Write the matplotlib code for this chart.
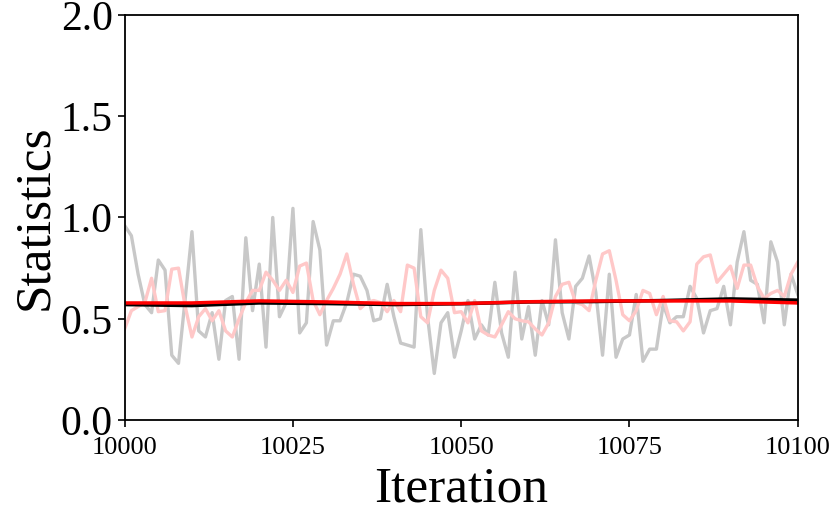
import matplotlib.pyplot as plt
import numpy as np

plt.rcParams['font.family'] = ['Liberation Serif', 'DejaVu Serif']

# raw samples, one per iteration 10000..10100
gray_vals = [0.96, 0.91, 0.72, 0.57, 0.53, 0.79, 0.74, 0.32, 0.28, 0.60,
             0.93, 0.44, 0.41, 0.53, 0.30, 0.59, 0.61, 0.30, 0.90, 0.54,
             0.77, 0.36, 1.00, 0.51, 0.58, 1.045, 0.43, 0.48, 0.98, 0.84,
             0.37, 0.49, 0.49, 0.58, 0.72, 0.71, 0.64, 0.49, 0.50, 0.67,
             0.51, 0.38, 0.37, 0.36, 0.94, 0.51, 0.23, 0.48, 0.53, 0.31,
             0.44, 0.59, 0.40, 0.47, 0.42, 0.68, 0.43, 0.31, 0.73, 0.40,
             0.56, 0.32, 0.59, 0.47, 0.89, 0.53, 0.40, 0.66, 0.70, 0.81,
             0.63, 0.32, 0.72, 0.31, 0.40, 0.42, 0.62, 0.29, 0.35, 0.35,
             0.57, 0.48, 0.51, 0.51, 0.66, 0.60, 0.43, 0.54, 0.55, 0.66,
             0.47, 0.78, 0.93, 0.69, 0.67, 0.48, 0.88, 0.78, 0.47, 0.72,
             0.62]

pink_vals = [0.45, 0.54, 0.56, 0.58, 0.70, 0.535, 0.54, 0.745, 0.75, 0.56,
             0.41, 0.51, 0.55, 0.49, 0.54, 0.44, 0.41, 0.50, 0.58, 0.64,
             0.64, 0.73, 0.69, 0.64, 0.69, 0.63, 0.76, 0.775, 0.59, 0.52,
             0.59, 0.65, 0.72, 0.82, 0.67, 0.55, 0.58, 0.59, 0.58, 0.535,
             0.59, 0.535, 0.765, 0.75, 0.51, 0.48, 0.64, 0.74, 0.70, 0.53,
             0.535, 0.48, 0.59, 0.44, 0.42, 0.41, 0.47, 0.535, 0.50, 0.49,
             0.485, 0.45, 0.42, 0.48, 0.61, 0.67, 0.68, 0.58, 0.57, 0.54,
             0.69, 0.82, 0.836, 0.69, 0.52, 0.49, 0.54, 0.64, 0.625, 0.52,
             0.61, 0.49, 0.485, 0.44, 0.485, 0.77, 0.806, 0.815, 0.68, 0.72,
             0.76, 0.65, 0.765, 0.765, 0.66, 0.60, 0.625, 0.64, 0.61, 0.72,
             0.78]

# running means, read every 10 iterations
mean_iters = [10000, 10010, 10020, 10030, 10040, 10050, 10060, 10070, 10080, 10090, 10100]
black_mean = [0.570, 0.565, 0.578, 0.575, 0.570, 0.574, 0.583, 0.585, 0.590, 0.598, 0.592]
red_mean = [0.578, 0.578, 0.588, 0.583, 0.575, 0.575, 0.584, 0.588, 0.588, 0.588, 0.578]

iters = np.arange(10000, 10000 + len(gray_vals))

fig = plt.figure(figsize=(8.31, 5.16), dpi=100)
ax = fig.add_axes([0.150, 0.186, 0.810, 0.785])

ax.plot(iters, gray_vals, color='#c8c8c8', lw=2.4)
ax.plot(iters, pink_vals, color='#ffc8c8', lw=2.4)
ax.plot(mean_iters, black_mean, color='black', lw=2.5)
ax.plot(mean_iters, red_mean, color='red', lw=2.5)

ax.set_xlim(10000, 10100)
ax.set_ylim(0.0, 2.0)
ax.set_xticks([10000, 10025, 10050, 10075, 10100])
ax.set_yticks([0.0, 0.5, 1.0, 1.5, 2.0])
ax.set_yticklabels(['0.0', '0.5', '1.0', '1.5', '2.0'])
ax.tick_params(axis='y', labelsize=30, length=5, width=1.2)
ax.tick_params(axis='x', labelsize=19, length=5, width=1.2, pad=7)
for s in ax.spines.values():
    s.set_linewidth(1.3)

ax.set_xlabel('Iteration', fontsize=37, labelpad=5)
ax.set_ylabel('Statistics', fontsize=37, labelpad=2)

fig.savefig('out.png', dpi=100)
